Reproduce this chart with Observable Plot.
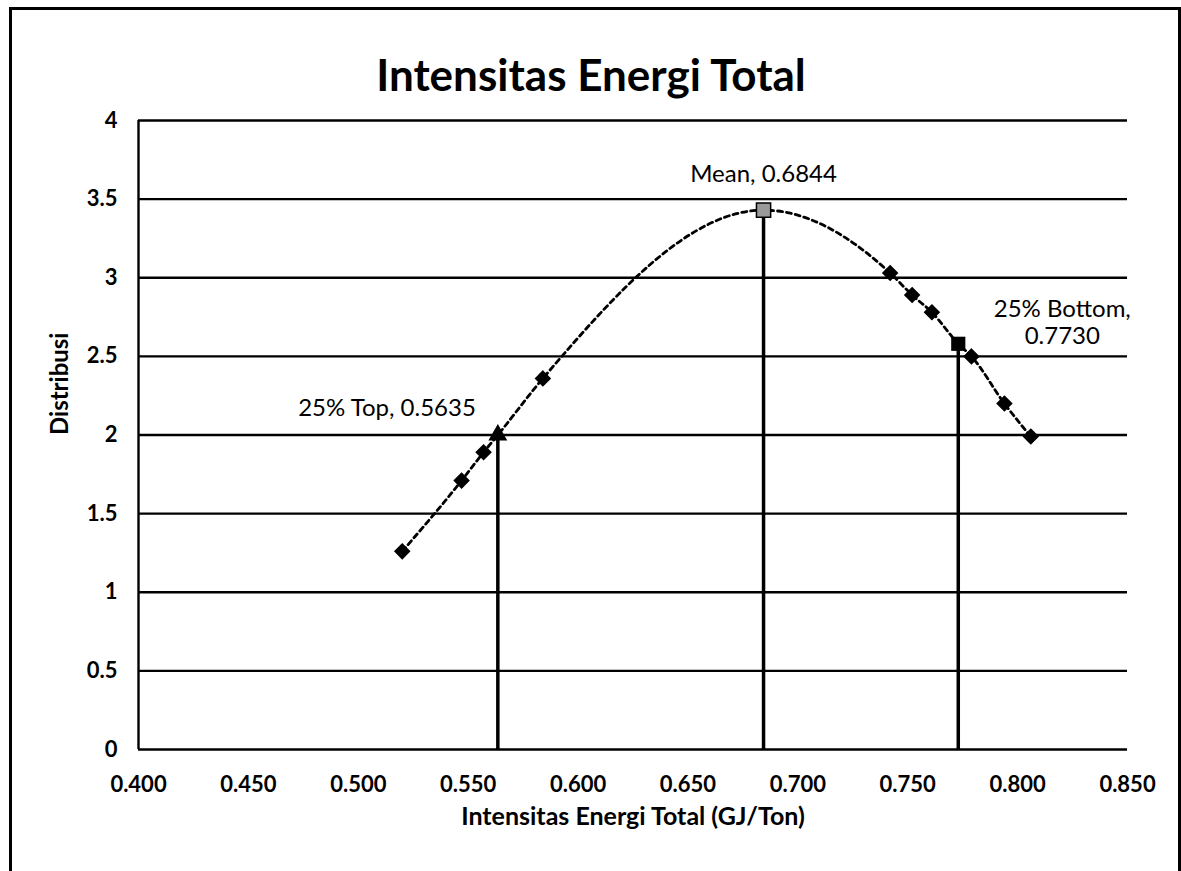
<!DOCTYPE html>
<html>
<head>
<meta charset="utf-8">
<script src="https://cdn.jsdelivr.net/npm/d3@7"></script>
<script src="https://cdn.jsdelivr.net/npm/@observablehq/plot@0.6"></script>
<style>
  html, body { margin: 0; padding: 0; background: #fff; }
  #wrap { position: relative; width: 1181px; height: 871px; overflow: hidden; background: #fff; }
  #border { position: absolute; left: 9px; top: 7px; width: 1172px; height: 900px; border: 3px solid #000; box-sizing: border-box; }
  #chart { position: absolute; left: 0; top: 0; }
</style>
</head>
<body>
<div id="wrap"><div id="border"></div><div id="chart"></div></div>
<script>
// Sample points (Intensitas Energi Total, GJ/Ton vs Distribusi)
const intensity    = [0.520, 0.547, 0.557, 0.584, 0.742, 0.752, 0.761, 0.779, 0.794, 0.806];
const distribution = [1.26, 1.71, 1.89, 2.36, 3.03, 2.89, 2.78, 2.50, 2.20, 1.99];

// Key statistics
const keyNames  = ["25% Top", "Mean", "25% Bottom"];
const keyX      = [0.5635, 0.6844, 0.7730];
const keyY      = [2.00, 3.43, 2.58];
const keyLabels = ["25% Top, 0.5635", "Mean, 0.6844", "25% Bottom,\n0.7730"];

// Axis ticks
const xTicks = [0.400, 0.450, 0.500, 0.550, 0.600, 0.650, 0.700, 0.750, 0.800, 0.850];
const yTicks = [0, 0.5, 1, 1.5, 2, 2.5, 3, 3.5, 4];

const points = intensity.map((x, i) => ({x, y: distribution[i]}));
const keys = keyX.map((x, i) => ({x, y: keyY[i], name: keyNames[i], label: keyLabels[i]}));
const curve = [...points, ...keys].sort((a, b) => a.x - b.x);

const font = "Lato, 'Open Sans', sans-serif";

const chart = Plot.plot({
  width: 1181,
  height: 871,
  marginLeft: 138,
  marginRight: 54,
  marginTop: 120,
  marginBottom: 122,
  style: {fontFamily: font, color: "#000", background: "transparent"},
  x: {domain: [0.4, 0.85]},
  y: {domain: [0, 4]},
  marks: [
    Plot.ruleY(yTicks, {stroke: "#000", strokeWidth: 2.4}),
    Plot.ruleX([0.4], {y1: 0, y2: 4, stroke: "#000", strokeWidth: 2.4}),
    Plot.axisX({ticks: xTicks, tickSize: 0, tickPadding: 27, tickFormat: d3.format(".3f"),
      fontSize: 22, fontWeight: "bold", label: null}),
    Plot.axisY({ticks: yTicks, tickSize: 0, tickPadding: 21, tickFormat: d => String(d),
      fontSize: 22, fontWeight: "bold", label: null}),
    Plot.ruleX(keys, {x: "x", y1: 0, y2: "y", stroke: "#000", strokeWidth: 3.5}),
    Plot.line(curve, {x: "x", y: "y", curve: "monotone-x", stroke: "#000", strokeWidth: 2.8,
      strokeDasharray: "5,4"}),
    Plot.dot(points, {x: "x", y: "y", symbol: "diamond2", r: 6.5, fill: "#000", stroke: "#000"}),
    Plot.dot(keys.filter(d => d.name === "25% Top"), {x: "x", y: "y", symbol: "triangle", r: 7, fill: "#000"}),
    Plot.dot(keys.filter(d => d.name === "Mean"), {x: "x", y: "y", symbol: "square", r: 8, fill: "#9a9a9a", stroke: "#000", strokeWidth: 1.5}),
    Plot.dot(keys.filter(d => d.name === "25% Bottom"), {x: "x", y: "y", symbol: "square", r: 8, fill: "#000"}),
    Plot.text(keys.filter(d => d.name === "Mean"), {x: "x", y: "y", text: "label", dx: 0, dy: -36,
      fontSize: 24, textAnchor: "middle", fill: "#000"}),
    Plot.text(keys.filter(d => d.name === "25% Top"), {x: "x", y: "y", text: "label", dx: -22, dy: -27,
      fontSize: 24, textAnchor: "end", fill: "#000"}),
    Plot.text(keys.filter(d => d.name === "25% Bottom"), {x: "x", y: "y", text: "label", dx: 104, dy: -46,
      fontSize: 24, textAnchor: "middle", lineAnchor: "top", lineHeight: 1.125, fill: "#000"}),
    Plot.text(["Intensitas Energi Total"], {frameAnchor: "top", dx: -42, dy: -61, fontSize: 44,
      fontWeight: "bold", fill: "#000"}),
    Plot.text(["Distribusi"], {frameAnchor: "left", dx: -78, rotate: -90, fontSize: 24,
      fontWeight: "bold", fill: "#000"}),
    Plot.text(["Intensitas Energi Total (GJ/Ton)"], {frameAnchor: "bottom", dy: 75, fontSize: 25,
      fontWeight: "bold", fill: "#000"})
  ]
});
document.getElementById("chart").appendChild(chart);
</script>
</body>
</html>
